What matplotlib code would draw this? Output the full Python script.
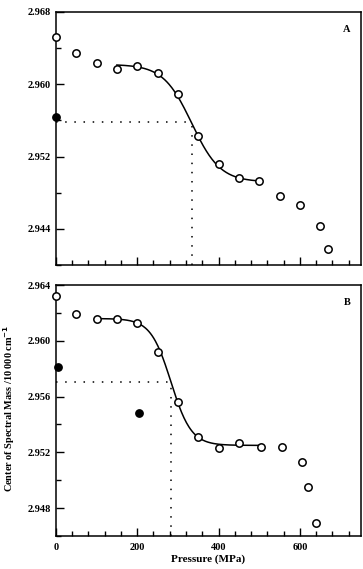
import numpy as np
import matplotlib
matplotlib.use('Agg')
from matplotlib import pyplot as plt
from matplotlib.ticker import MultipleLocator

plt.rcParams['font.family'] = ['Liberation Serif', 'DejaVu Serif']
plt.rcParams['font.weight'] = 'bold'

# panel A
pressure_a = [0, 50, 100, 150, 200, 250, 300, 350, 400, 450, 500, 550, 600, 650, 670]
mass_a = [2.9652, 2.9635, 2.9624, 2.9617, 2.9620, 2.9612, 2.9589, 2.9543, 2.9512, 2.9496, 2.9493,
          2.9477, 2.9467, 2.9443, 2.9418]
filled_p_a = [0]
filled_m_a = [2.9564]
fit_a = dict(high=2.9622, low=2.9492, x0=334, w=35, start=150, stop=500)
mid_a = (334, 2.9558)

# panel B
pressure_b = [0, 50, 100, 150, 200, 250, 300, 350, 400, 450, 505, 555, 605, 620, 640]
mass_b = [2.9632, 2.9619, 2.9616, 2.9616, 2.9613, 2.9592, 2.9556, 2.9531, 2.9523, 2.9527, 2.9524,
          2.9524, 2.9513, 2.9495, 2.9469]
filled_p_b = [5, 205]
filled_m_b = [2.9581, 2.9548]
fit_b = dict(high=2.9616, low=2.9525, x0=283, w=25, start=100, stop=500)
mid_b = (283, 2.95705)


def sigmoid(x, p):
    return p['low'] + (p['high'] - p['low']) / (1 + np.exp((x - p['x0']) / p['w']))


def draw_panel(ax, pres, mass, fp, fm, fit, mid, ylim, ymaj, ymin, letter):
    xs = np.linspace(fit['start'], fit['stop'], 200)
    ax.plot(xs, sigmoid(xs, fit), color='black', lw=1.1, zorder=2)
    ax.plot([0, mid[0]], [mid[1], mid[1]], color='black', lw=1.1, ls=(0, (1, 5)), zorder=1)
    ax.plot([mid[0], mid[0]], [ylim[0], mid[1]], color='black', lw=1.1, ls=(0, (1, 5)), zorder=1)
    ax.plot(pres, mass, 'o', mfc='white', mec='black', mew=1.1, ms=5.3, ls='none', zorder=3, clip_on=False)
    ax.plot(fp, fm, 'o', mfc='black', mec='black', ms=5.3, ls='none', zorder=3, clip_on=False)
    ax.set_xlim(0, 750)
    ax.set_ylim(*ylim)
    ax.xaxis.set_major_locator(MultipleLocator(200))
    ax.xaxis.set_minor_locator(MultipleLocator(40))
    ax.yaxis.set_major_locator(MultipleLocator(ymaj))
    ax.yaxis.set_minor_locator(MultipleLocator(ymin))
    ax.tick_params(which='both', direction='in', top=False, right=False, labelsize=7.5, width=1)
    ax.tick_params(which='major', length=6)
    ax.tick_params(which='minor', length=3.5)
    ax.tick_params(axis='x', pad=5)
    ax.yaxis.set_major_formatter(matplotlib.ticker.FormatStrFormatter('%.3f'))
    for s in ax.spines.values():
        s.set_linewidth(1.1)
    ax.text(0.965, 0.95, letter, transform=ax.transAxes, ha='right', va='top', fontsize=7.5, fontweight='bold')


fig = plt.figure(figsize=(3.63, 5.69), dpi=100)
ax1 = fig.add_axes([0.154, 0.534, 0.840, 0.445])
ax2 = fig.add_axes([0.154, 0.058, 0.840, 0.441])

draw_panel(ax1, pressure_a, mass_a, filled_p_a, filled_m_a, fit_a, mid_a, (2.940, 2.968), 0.008, 0.004, 'A')
draw_panel(ax2, pressure_b, mass_b, filled_p_b, filled_m_b, fit_b, mid_b, (2.946, 2.964), 0.004, 0.002, 'B')
ax1.set_xticklabels([])

ax2.set_xlabel('Pressure (MPa)', fontsize=8, fontweight='bold', labelpad=2)
fig.text(0.026, 0.283, 'Center of Spectral Mass /10 000 cm$^{\\mathbf{-1}}$', rotation=90,
         ha='center', va='center', fontsize=7.4, fontweight='bold')

plt.savefig('out.png', dpi=100)
